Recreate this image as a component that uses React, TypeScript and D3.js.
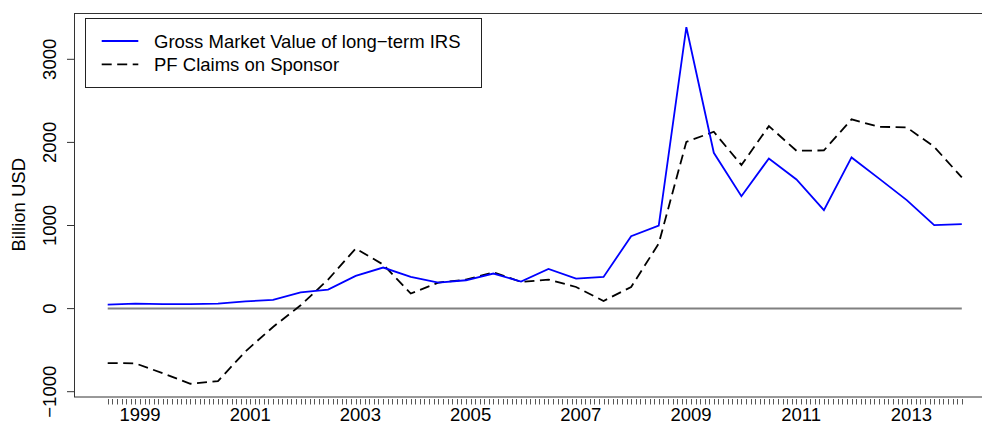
import { useEffect, useRef } from "react";
import * as d3 from "d3";

// semiannual observations, June 1998 .. December 2013
const dates = [
  "1998-06-01", "1998-12-01", "1999-06-01", "1999-12-01", "2000-06-01", "2000-12-01",
  "2001-06-01", "2001-12-01", "2002-06-01", "2002-12-01", "2003-06-01", "2003-12-01",
  "2004-06-01", "2004-12-01", "2005-06-01", "2005-12-01", "2006-06-01", "2006-12-01",
  "2007-06-01", "2007-12-01", "2008-06-01", "2008-12-01", "2009-06-01", "2009-12-01",
  "2010-06-01", "2010-12-01", "2011-06-01", "2011-12-01", "2012-06-01", "2012-12-01",
  "2013-06-01", "2013-12-01",
];

const grossMarketValue = [
  48, 60, 55, 55, 60, 88, 104, 196, 229, 393, 494, 381, 313, 341, 422, 325,
  477, 361, 381, 871, 1000, 3386, 1875, 1353, 1807, 1554, 1184, 1819, 1564, 1305,
  1004, 1016,
];

const pfClaims = [
  -655, -659, -778, -904, -872, -514, -221, 40, 349, 723, 530, 181, 313, 349, 437, 321,
  349, 260, 92, 260, 783, 2007, 2128, 1727, 2196, 1899, 1904, 2277, 2188, 2181,
  1947, 1578,
];

const yTicks = [-1000, 0, 1000, 2000, 3000];
const yearLabels = [1999, 2001, 2003, 2005, 2007, 2009, 2011, 2013];
const legendLabels = ["Gross Market Value of long\u2212term IRS", "PF Claims on Sponsor"];

const FONT = "'Liberation Sans', Arial, Helvetica, sans-serif";

export default function App() {
  const ref = useRef<SVGSVGElement | null>(null);

  useEffect(() => {
    if (!ref.current) return;
    const svg = d3.select(ref.current);
    svg.selectAll("*").remove();

    const width = 982;
    const height = 425;
    const box = { left: 74, top: 13, right: 996, bottom: 396.5 };

    const parse = d3.timeParse("%Y-%m-%d");
    const t = dates.map((d) => parse(d) as Date);

    const x = d3.scaleTime().domain([t[0], t[t.length - 1]]).range([107.7, 961.8]);
    const y = d3.scaleLinear().domain([-1000, 3000]).range([391.7, 59.3]);

    svg.attr("width", width).attr("height", height);
    svg.append("rect").attr("width", width).attr("height", height).attr("fill", "#fff");

    // plot box
    svg
      .append("rect")
      .attr("x", box.left + 0.5)
      .attr("y", box.top + 0.5)
      .attr("width", box.right - box.left)
      .attr("height", box.bottom - box.top)
      .attr("fill", "none")
      .attr("stroke", "#333")
      .attr("stroke-width", 1);

    // y axis ticks and labels
    const yAxis = svg.append("g");
    yTicks.forEach((v) => {
      const yy = y(v);
      yAxis
        .append("line")
        .attr("x1", 67)
        .attr("x2", box.left)
        .attr("y1", yy)
        .attr("y2", yy)
        .attr("stroke", "#333");
      yAxis
        .append("text")
        .attr("transform", `translate(55.5,${yy}) rotate(-90)`)
        .attr("text-anchor", "middle")
        .attr("font-family", FONT)
        .attr("font-size", 18.5)
        .attr("fill", "#000")
        .text(v < 0 ? `\u2212${Math.abs(v)}` : String(v));
    });

    svg
      .append("text")
      .attr("transform", `translate(25,${(box.top + box.bottom) / 2}) rotate(-90)`)
      .attr("text-anchor", "middle")
      .attr("font-family", FONT)
      .attr("font-size", 18.5)
      .attr("fill", "#000")
      .text("Billion USD");

    // monthly ticks on the x axis
    const months = d3.timeMonth.range(t[0], d3.timeMonth.offset(t[t.length - 1], 1));
    svg
      .append("g")
      .selectAll("line")
      .data(months)
      .join("line")
      .attr("x1", (d) => Math.round(x(d)) + 0.5)
      .attr("x2", (d) => Math.round(x(d)) + 0.5)
      .attr("y1", 399)
      .attr("y2", 404.5)
      .attr("stroke", "#555")
      .attr("stroke-width", 1);

    svg
      .append("g")
      .selectAll("text")
      .data(yearLabels)
      .join("text")
      .attr("x", (d) => x(new Date(d, 0, 1)))
      .attr("y", 421)
      .attr("text-anchor", "middle")
      .attr("font-family", FONT)
      .attr("font-size", 18.5)
      .attr("fill", "#000")
      .text((d) => String(d));

    // zero line
    svg
      .append("line")
      .attr("x1", x(t[0]))
      .attr("x2", x(t[t.length - 1]))
      .attr("y1", y(0))
      .attr("y2", y(0))
      .attr("stroke", "#808080")
      .attr("stroke-width", 2);

    const line = d3
      .line<number>()
      .x((_, i) => x(t[i]))
      .y((d) => y(d));

    svg
      .append("path")
      .datum(pfClaims)
      .attr("fill", "none")
      .attr("stroke", "#000")
      .attr("stroke-width", 1.8)
      .attr("stroke-dasharray", "10,5.5")
      .attr("d", line);

    svg
      .append("path")
      .datum(grossMarketValue)
      .attr("fill", "none")
      .attr("stroke", "#0000ff")
      .attr("stroke-width", 1.8)
      .attr("d", line);

    // legend
    const lg = svg.append("g");
    lg.append("rect")
      .attr("x", 85.5)
      .attr("y", 18.5)
      .attr("width", 396)
      .attr("height", 69)
      .attr("fill", "#fff")
      .attr("stroke", "#222")
      .attr("stroke-width", 1);
    const rows = [
      { label: legendLabels[0], color: "#0000ff", dash: null, yy: 41 },
      { label: legendLabels[1], color: "#000", dash: "10,5.5", yy: 64.3 },
    ];
    rows.forEach((r) => {
      lg.append("line")
        .attr("x1", 101.7)
        .attr("x2", 138.3)
        .attr("y1", r.yy)
        .attr("y2", r.yy)
        .attr("stroke", r.color)
        .attr("stroke-width", 1.8)
        .attr("stroke-dasharray", r.dash);
      lg.append("text")
        .attr("x", 154)
        .attr("y", r.yy + 6.8)
        .attr("font-family", FONT)
        .attr("font-size", 18.5)
        .attr("fill", "#000")
        .text(r.label);
    });
  }, []);

  return (
    <svg
      ref={ref}
      style={{ position: "absolute", left: 0, top: 0, display: "block" }}
    />
  );
}
